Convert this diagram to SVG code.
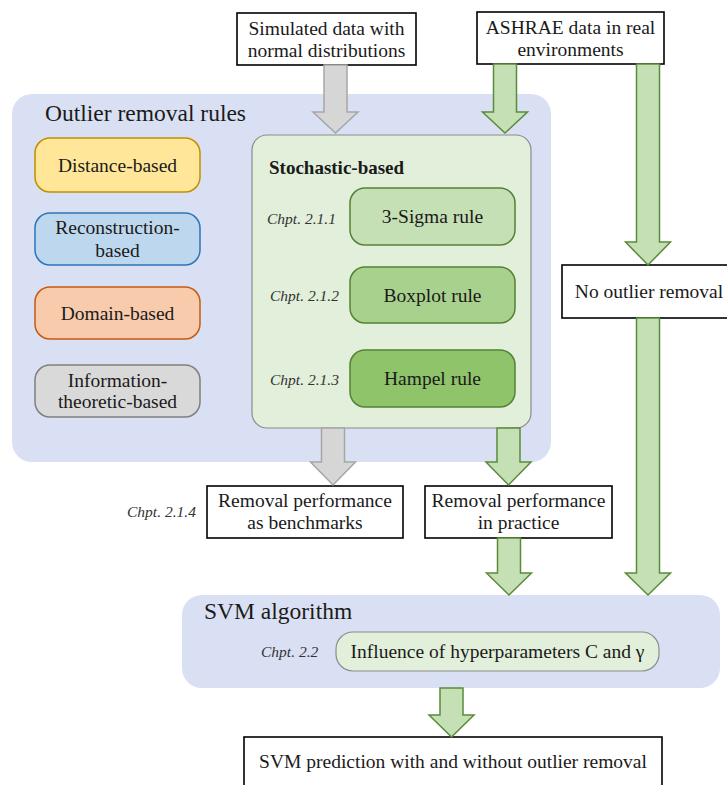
<svg xmlns="http://www.w3.org/2000/svg" width="727" height="785" viewBox="0 0 727 785">
<style>
text{font-family:"Liberation Serif","Times New Roman",serif;fill:#1a1a1a}
.t{font-size:19.5px;text-anchor:middle}
.title{font-size:23.5px}
.bold{font-size:19px;font-weight:bold}
.ch{font-size:15.5px;font-style:italic;fill:#333}
.box{fill:#fff;stroke:#000;stroke-width:1.6}
.panel{fill:#dae0f3}
.garr{fill:#c5e0b4;stroke:#5a8a3a;stroke-width:1.5}
.harr{fill:#d6d6d6;stroke:#a6a6a6;stroke-width:1.5}
</style>
<rect width="727" height="785" fill="#fff"/>
<g id="outlier-panel">
<rect class="panel" x="12" y="94" width="539" height="368" rx="20"/>
<text class="title" x="45" y="121">Outlier removal rules</text>
</g>
<g id="svm-panel">
<rect class="panel" x="182" y="595" width="538" height="93" rx="20"/>
<text class="title" x="204" y="619">SVM algorithm</text>
</g>
<g id="distance">
<rect x="35" y="138" width="165" height="54" rx="15" fill="#ffe699" stroke="#bf9000" stroke-width="1.5"/>
<text class="t" x="117.5" y="171.5">Distance-based</text>
</g>
<g id="reconstruction">
<rect x="35" y="213" width="165" height="52" rx="15" fill="#bdd7ee" stroke="#2e75b6" stroke-width="1.5"/>
<text class="t" x="117.5" y="234">Reconstruction-</text>
<text class="t" x="117.5" y="257">based</text>
</g>
<g id="domain">
<rect x="35" y="287" width="165" height="52" rx="15" fill="#f8cbad" stroke="#c55a11" stroke-width="1.5"/>
<text class="t" x="117.5" y="319.5">Domain-based</text>
</g>
<g id="information">
<rect x="35" y="365" width="165" height="52" rx="15" fill="#d9d9d9" stroke="#7f7f7f" stroke-width="1.5"/>
<text class="t" x="117.5" y="387">Information-</text>
<text class="t" x="117.5" y="408">theoretic-based</text>
</g>
<g id="stochastic">
<rect x="252" y="135" width="279" height="293" rx="15" fill="#e2efda" stroke="#8c8c8c" stroke-width="1.2"/>
<text class="bold" x="269" y="174">Stochastic-based</text>
</g>
<g id="sigma">
<text class="ch" x="267" y="224">Chpt. 2.1.1</text>
<rect x="350" y="188" width="165" height="57" rx="15" fill="#c5e0b4" stroke="#548235" stroke-width="1.5"/>
<text class="t" x="432.5" y="223">3-Sigma rule</text>
</g>
<g id="boxplot">
<text class="ch" x="270" y="301">Chpt. 2.1.2</text>
<rect x="350" y="267" width="165" height="56" rx="15" fill="#a9d18e" stroke="#548235" stroke-width="1.5"/>
<text class="t" x="432.5" y="301.5">Boxplot rule</text>
</g>
<g id="hampel">
<text class="ch" x="270" y="385">Chpt. 2.1.3</text>
<rect x="350" y="350" width="165" height="57" rx="15" fill="#8fc46a" stroke="#548235" stroke-width="1.5"/>
<text class="t" x="432.5" y="385">Hampel rule</text>
</g>
<g id="simulated">
<rect class="box" x="237" y="13" width="179" height="52"/>
<text class="t" x="326.5" y="34.5">Simulated data with</text>
<text class="t" x="326.5" y="56.5">normal distributions</text>
</g>
<g id="ashrae">
<rect class="box" x="477" y="12" width="187" height="52"/>
<text class="t" x="570.5" y="33.5">ASHRAE data in real</text>
<text class="t" x="570.5" y="55.5">environments</text>
</g>
<g id="no-removal">
<rect class="box" x="562" y="265" width="176" height="53"/>
<text class="t" x="649" y="298">No outlier removal</text>
</g>
<g id="benchmarks">
<text class="ch" x="127" y="517">Chpt. 2.1.4</text>
<rect class="box" x="207" y="486" width="196" height="52"/>
<text class="t" x="305" y="507">Removal performance</text>
<text class="t" x="305" y="529">as benchmarks</text>
</g>
<g id="practice">
<rect class="box" x="425" y="486" width="187" height="52"/>
<text class="t" x="518.5" y="507">Removal performance</text>
<text class="t" x="518.5" y="529">in practice</text>
</g>
<g id="hyper">
<text class="ch" x="261" y="657">Chpt. 2.2</text>
<rect x="336" y="632" width="323" height="39" rx="17" fill="#e2efda" stroke="#8c8c8c" stroke-width="1.2"/>
<text class="t" x="497.5" y="658">Influence of hyperparameters C and γ</text>
</g>
<g id="prediction">
<rect class="box" x="244" y="737" width="418" height="60"/>
<text class="t" x="453" y="768">SVM prediction with and without outlier removal</text>
</g>
<g id="connectors">
<path class="harr" d="M324,65 H347 V112 H358 L335.5,133 L313,112 H324 Z"/>
<path class="garr" d="M493.5,64 H516.5 V112 H527.5 L505,133 L482.5,112 H493.5 Z"/>
<path class="garr" d="M636.5,64 H659.5 V242 H670.5 L648,265 L625.5,242 H636.5 Z"/>
<path class="garr" d="M636.5,318 H659.5 V573 H670.5 L648,595 L625.5,573 H636.5 Z"/>
<path class="harr" d="M321.5,428 H344.5 V462 H355.5 L333,485 L310.5,462 H321.5 Z"/>
<path class="garr" d="M497,428 H520 V462 H531 L508.5,485 L486,462 H497 Z"/>
<path class="garr" d="M497.5,538 H520.5 V573 H531.5 L509,595 L486.5,573 H497.5 Z"/>
<path class="garr" d="M440,688 H463 V715 H474 L451.5,737 L429,715 H440 Z"/>
</g>
</svg>
